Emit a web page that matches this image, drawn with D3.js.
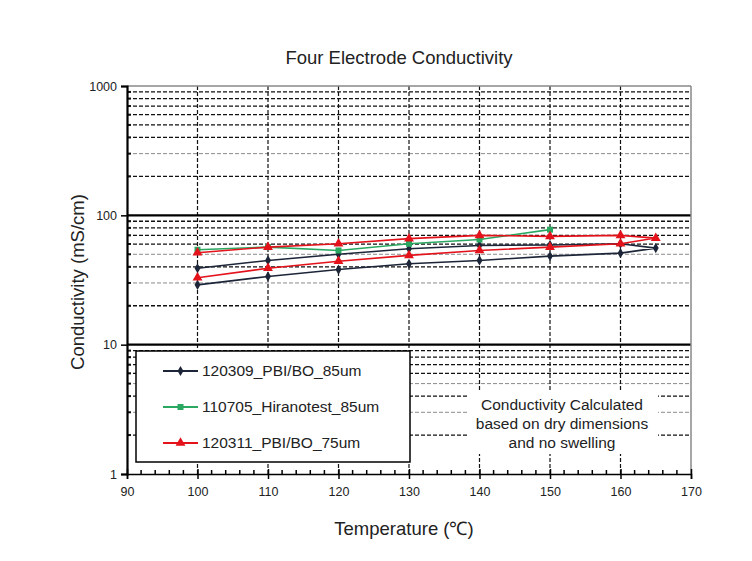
<!DOCTYPE html>
<html>
<head>
<meta charset="utf-8">
<script src="https://cdn.jsdelivr.net/npm/d3@7"></script>
<style>
  html, body { margin: 0; padding: 0; background: #fff; }
  svg { display: block; font-family: "Liberation Sans", Arial, sans-serif; }
</style>
</head>
<body>
<svg id="chart" width="752" height="561"></svg>
<script>
// ---- data ----
const title = "Four Electrode Conductivity";
const xLabel = "Temperature (\u2103)";
const yLabel = "Conductivity (mS/cm)";
const xTicks = [90, 100, 110, 120, 130, 140, 150, 160, 170];
const yTicks = [1, 10, 100, 1000];

const seriesNames = ["120309_PBI/BO_85um", "110705_Hiranotest_85um", "120311_PBI/BO_75um"];
// heating then return path (loop)
const tempBlack = [100, 110, 120, 130, 140, 150, 160, 165, 160, 150, 140, 130, 120, 110, 100];
const condBlack = [29.0, 33.7, 38.1, 42.2, 44.8, 48.4, 51.0, 55.8, 60.3, 59.0, 58.5, 55.2, 50.0, 44.8, 39.0];
const tempGreen = [100, 110, 120, 130, 140, 150];
const condGreen = [54.2, 56.8, 53.5, 60.3, 65.0, 77.5];
const tempRed = [100, 110, 120, 130, 140, 150, 160, 165, 160, 150, 140, 130, 120, 110, 100];
const condRed = [32.9, 39.0, 44.2, 49.0, 53.5, 56.8, 60.3, 66.7, 70.0, 68.8, 70.0, 66.0, 60.3, 56.8, 51.4];

const noteLines = ["Conductivity Calculated", "based on dry dimensions", "and no swelling"];

// ---- layout ----
const svg = d3.select("#chart");
const x = d3.scaleLinear().domain([90, 170]).range([127, 691]);
const y = d3.scaleLog().domain([1, 1000]).range([474, 86]);

const colors = ["#1c2638", "#2aa861", "#e3121b"];
const series = [
  { name: seriesNames[0], t: tempBlack, v: condBlack, color: colors[0], marker: "diamond" },
  { name: seriesNames[1], t: tempGreen, v: condGreen, color: colors[1], marker: "square" },
  { name: seriesNames[2], t: tempRed, v: condRed, color: colors[2], marker: "triangle" }
];

// minor horizontal gridlines
const isGray = d => (d.m === 3) || (d.m === 5 && d.d !== 100);
const minorVals = [];
for (const d of [1, 10, 100]) for (let m = 2; m <= 9; m++) minorVals.push({ v: d * m, m: m, d: d });
svg.append("g").selectAll("line").data(minorVals).join("line")
  .attr("x1", x(90)).attr("x2", x(170))
  .attr("y1", d => y(d.v)).attr("y2", d => y(d.v))
  .attr("stroke", d => isGray(d) ? "#8a8a8a" : "#111")
  .attr("stroke-width", d => isGray(d) ? 1 : 1.3)
  .attr("stroke-dasharray", "4,2");

// minor y ticks (inside)
svg.append("g").selectAll("line").data(minorVals).join("line")
  .attr("x1", x(90)).attr("x2", x(90) + 4)
  .attr("y1", d => y(d.v)).attr("y2", d => y(d.v))
  .attr("stroke", "#111").attr("stroke-width", 2);

// vertical gridlines
svg.append("g").selectAll("line").data(xTicks.filter(t => t > 90 && t < 170)).join("line")
  .attr("x1", d => x(d)).attr("x2", d => x(d))
  .attr("y1", y(1000)).attr("y2", y(1))
  .attr("stroke", "#111").attr("stroke-width", 1.2).attr("stroke-dasharray", "4,2");

// major horizontal lines 10 and 100
svg.append("g").selectAll("line").data([10, 100]).join("line")
  .attr("x1", x(90)).attr("x2", x(170))
  .attr("y1", d => y(d)).attr("y2", d => y(d))
  .attr("stroke", "#000").attr("stroke-width", 2.2);

// top and right border
svg.append("line").attr("x1", x(90)).attr("x2", x(170)).attr("y1", y(1000)).attr("y2", y(1000))
  .attr("stroke", "#888").attr("stroke-width", 1.5);
svg.append("line").attr("x1", x(170)).attr("x2", x(170)).attr("y1", y(1000)).attr("y2", y(1))
  .attr("stroke", "#888").attr("stroke-width", 1.5);

// annotation box (white background)
const noteCx = 562;
svg.append("rect").attr("x", 468).attr("y", 390).attr("width", 190).attr("height", 64).attr("fill", "#fff");
svg.append("g").selectAll("text").data(noteLines).join("text")
  .attr("x", noteCx).attr("y", (d, i) => 410 + i * 19)
  .attr("text-anchor", "middle").attr("font-size", 15.5).attr("fill", "#222")
  .text(d => d);

// axes
const yAxis = d3.axisLeft(y).tickValues(yTicks).tickFormat(d3.format("d")).tickSize(6).tickPadding(4);
const gy = svg.append("g").attr("transform", `translate(${x(90)},0)`).call(yAxis);
gy.select(".domain").attr("stroke", "#000").attr("stroke-width", 2.2);
gy.selectAll(".tick line").attr("stroke", "#000").attr("stroke-width", 1.5);
gy.selectAll(".tick text").attr("font-size", 12.5).attr("fill", "#222")
  .attr("font-family", "'Liberation Sans', Arial, sans-serif");

const xAxis = d3.axisBottom(x).tickValues(xTicks).tickFormat(d3.format("d")).tickSize(5).tickPadding(8);
const gx = svg.append("g").attr("transform", `translate(0,${y(1)})`).call(xAxis);
gx.select(".domain").attr("stroke", "#000").attr("stroke-width", 1.5);
gx.selectAll(".tick line").attr("stroke", "#000").attr("stroke-width", 1.5).attr("y1", -5);
gx.selectAll(".tick text").attr("font-size", 12.5).attr("fill", "#222")
  .attr("font-family", "'Liberation Sans', Arial, sans-serif");
// minor x ticks (inside)
const xMinor = d3.range(90, 171, 2).filter(t => t % 10 !== 0);
svg.append("g").selectAll("line").data(xMinor).join("line")
  .attr("x1", d => x(d)).attr("x2", d => x(d))
  .attr("y1", y(1)).attr("y2", y(1) - 4)
  .attr("stroke", "#000").attr("stroke-width", 1.5);

// series lines
const line = d3.line().x(d => x(d[0])).y(d => y(d[1]));
const symType = { diamond: d3.symbolDiamond, square: d3.symbolSquare, triangle: d3.symbolTriangle };
const symSize = { diamond: 30, square: 36, triangle: 42 };
series.forEach(s => {
  const pts = s.t.map((t, i) => [t, s.v[i]]);
  svg.append("path").datum(pts).attr("d", line)
    .attr("fill", "none").attr("stroke", s.color).attr("stroke-width", 1.6);
  svg.append("g").selectAll("path").data(pts).join("path")
    .attr("transform", d => `translate(${x(d[0])},${y(d[1])})`)
    .attr("d", d3.symbol().type(symType[s.marker]).size(symSize[s.marker]))
    .attr("fill", s.color);
});

// legend
const lg = svg.append("g");
lg.append("rect").attr("x", 136).attr("y", 351).attr("width", 274).attr("height", 111)
  .attr("fill", "#fff").attr("stroke", "#000").attr("stroke-width", 1.5);
const rowsY = [371, 407, 443];
series.forEach((s, i) => {
  lg.append("line").attr("x1", 163).attr("x2", 198).attr("y1", rowsY[i]).attr("y2", rowsY[i])
    .attr("stroke", s.color).attr("stroke-width", 2);
  lg.append("path").attr("transform", `translate(180.5,${rowsY[i]})`)
    .attr("d", d3.symbol().type(symType[s.marker]).size(symSize[s.marker]))
    .attr("fill", s.color);
  lg.append("text").attr("x", 202).attr("y", rowsY[i] + 5)
    .attr("font-size", 15.5).attr("fill", "#222").text(s.name);
});

// titles
svg.append("text").attr("x", 399).attr("y", 64).attr("text-anchor", "middle")
  .attr("font-size", 18.5).attr("fill", "#222").text(title);
svg.append("text").attr("x", 404).attr("y", 535).attr("text-anchor", "middle")
  .attr("font-size", 18.5).attr("fill", "#222").text(xLabel);
svg.append("text").attr("transform", "translate(84,282) rotate(-90)").attr("text-anchor", "middle")
  .attr("font-size", 18.5).attr("fill", "#222").text(yLabel);
</script>
</body>
</html>
